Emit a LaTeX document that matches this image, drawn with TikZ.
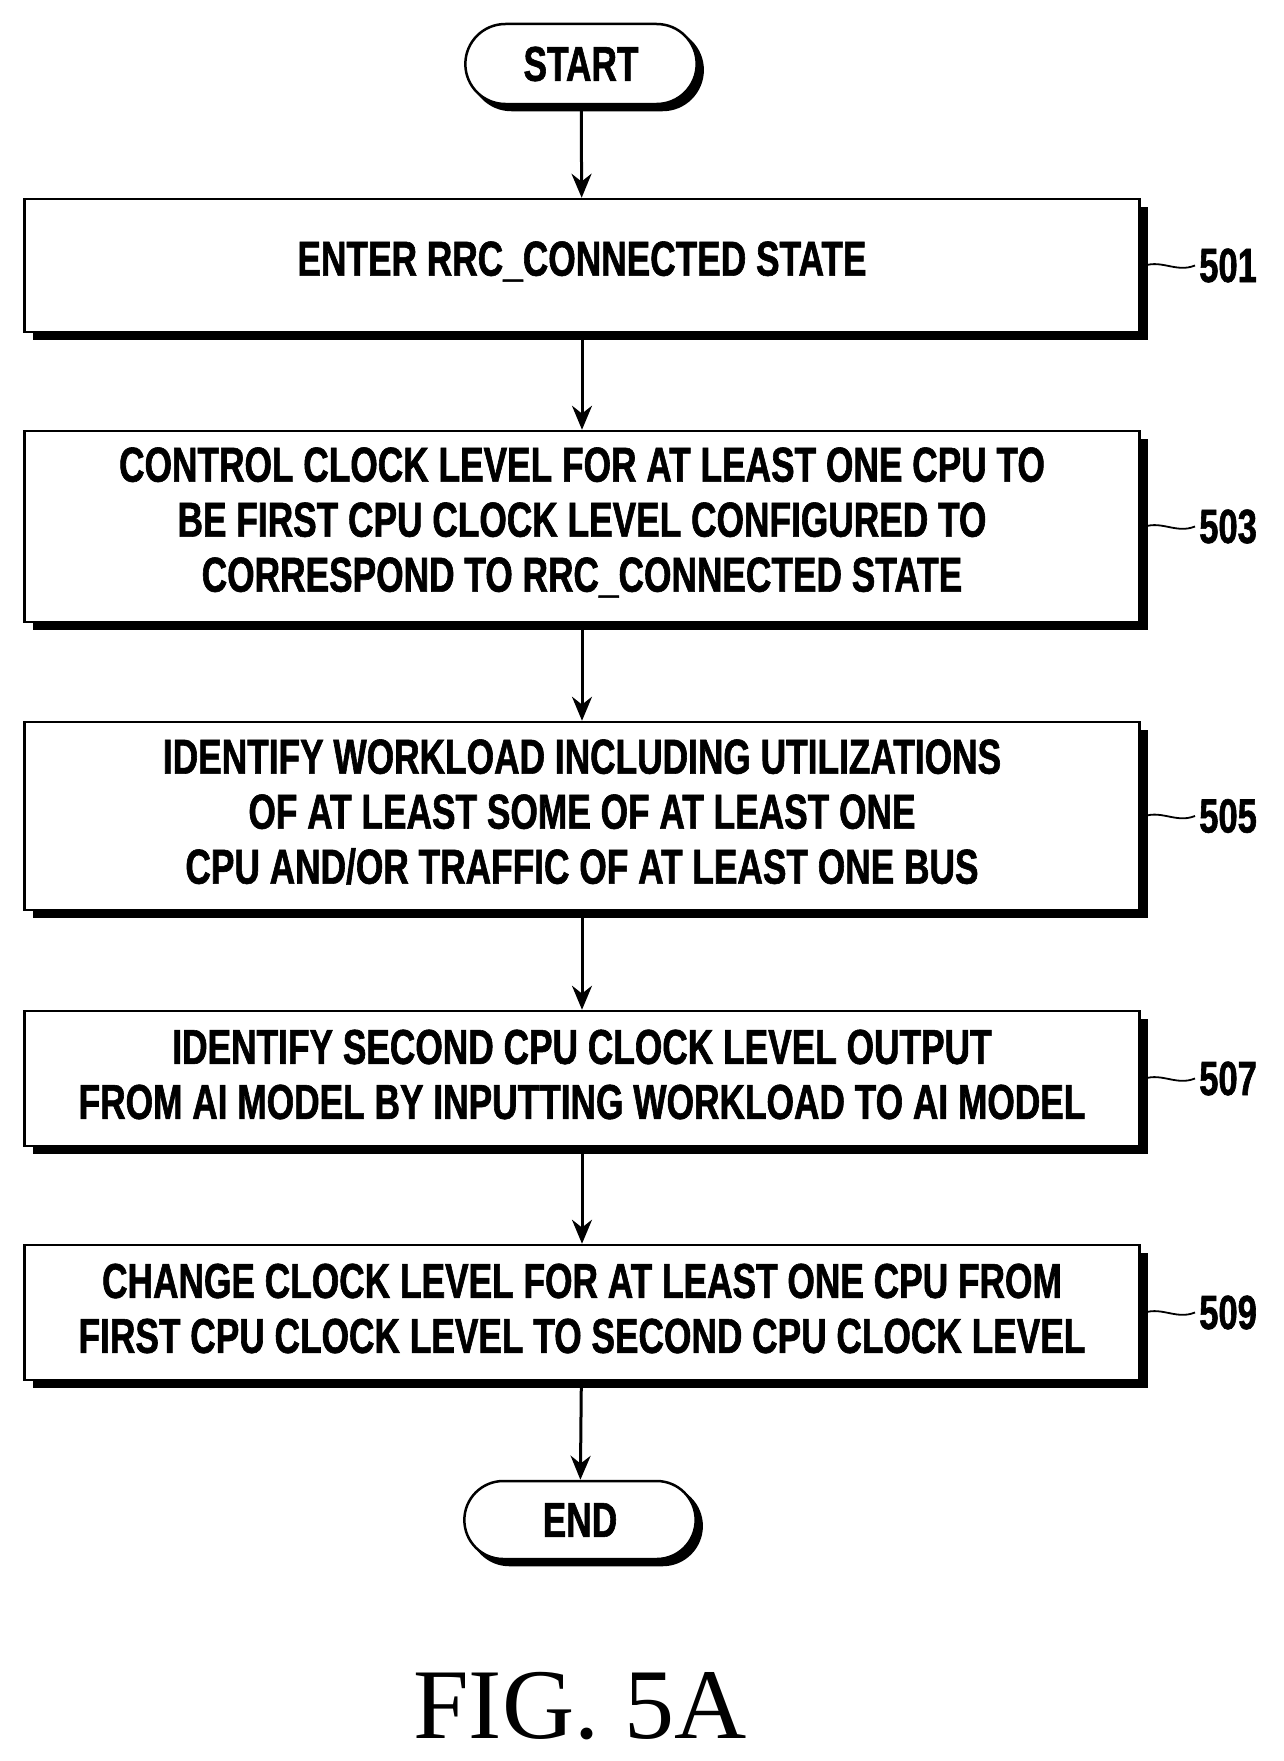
\documentclass[tikz,border=0pt]{standalone}
\usepackage{fontspec}
\setmainfont{Liberation Serif}
\newfontfamily\boxfont[FakeStretch=0.72,FakeBold=1.2]{Liberation Sans Bold}
\usetikzlibrary{shapes.misc,arrows.meta}
\begin{document}
\begin{tikzpicture}[x=1pt,y=-1pt,
  box/.style={draw,line width=2.5pt,fill=white,minimum width=1115pt,inner sep=0pt},
  txt/.style={align=center,inner sep=0pt,font=\boxfont\fontsize{49}{55}\selectfont},
  term/.style={draw,line width=2.5pt,fill=white,rounded rectangle,minimum width=238pt,font=\boxfont\fontsize{49}{55}\selectfont},
  arr/.style={line width=3pt,-{Stealth[length=24pt,width=20pt]}},
  lbl/.style={font=\boxfont\fontsize{48}{55}\selectfont,anchor=west}]
\useasboundingbox (0,0) rectangle (1284,1761);
\def\mybox#1#2#3#4#5{%
  \fill (25+8,#2+8) rectangle (1140+8,#3+8);
  \node[box,minimum height=#3-#2] (#1) at (582,{(#2+#3)/2}) {};
  \node[txt] (#1t) at (582,{(#2+#3)/2-4}) {#4};
  \draw[line width=1.8pt] (1140,{(#2+#3)/2+2}) .. controls (1160,{(#2+#3)/2-8}) and (1175,{(#2+#3)/2+8}) .. (1195,{(#2+#3)/2})
     node[lbl] (#1l) {#5};}
\node[term,minimum height=80pt,fill=black] (startsh) at (587,70) {\phantom{START}};
\node[term,minimum height=80pt] (start) at (581,64) {START};
\mybox{b1}{199}{332}{ENTER RRC\_CONNECTED STATE}{501}
\mybox{b2}{431}{622}{CONTROL CLOCK LEVEL FOR AT LEAST ONE CPU TO\\BE FIRST CPU CLOCK LEVEL CONFIGURED TO\\CORRESPOND TO RRC\_CONNECTED STATE}{503}
\mybox{b3}{722}{910}{IDENTIFY WORKLOAD INCLUDING UTILIZATIONS\\OF AT LEAST SOME OF AT LEAST ONE\\CPU AND/OR TRAFFIC OF AT LEAST ONE BUS}{505}
\mybox{b4}{1011}{1146}{IDENTIFY SECOND CPU CLOCK LEVEL OUTPUT\\FROM AI MODEL BY INPUTTING WORKLOAD TO AI MODEL}{507}
\mybox{b5}{1245}{1380}{CHANGE CLOCK LEVEL FOR AT LEAST ONE CPU FROM\\FIRST CPU CLOCK LEVEL TO SECOND CPU CLOCK LEVEL}{509}
\node[term,minimum height=78pt,fill=black] (endsh) at (586,1526) {\phantom{END}};
\node[term,minimum height=78pt] (end) at (580,1520) {END};
\draw[arr] (start) -- (b1);
\draw[arr] (b1) -- (b2);
\draw[arr] (b2) -- (b3);
\draw[arr] (b3) -- (b4);
\draw[arr] (b4) -- (b5);
\draw[arr] (b5) -- (end);
\node[font=\fontsize{100}{100}\selectfont] (fig) at (580,1706) {FIG. 5A};
\end{tikzpicture}
\end{document}
